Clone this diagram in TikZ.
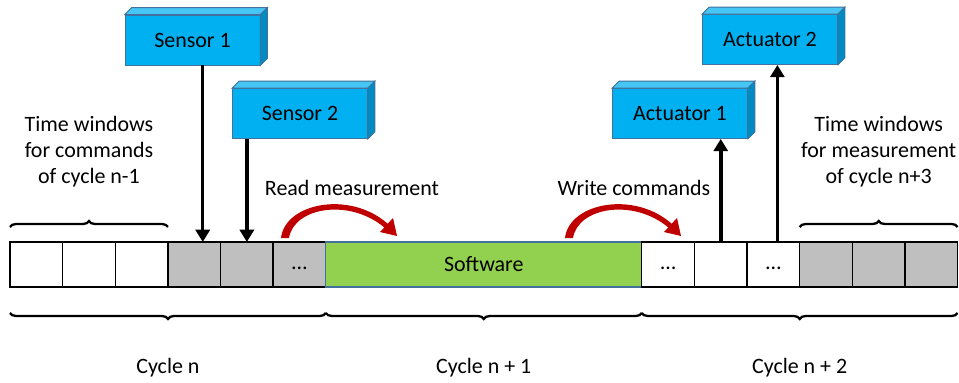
\documentclass[tikz,border=0pt]{standalone}
\usepackage{fontspec}
\setmainfont{Carlito}
\usetikzlibrary{positioning,arrows.meta,decorations.pathreplacing}

\definecolor{devfront}{HTML}{00B0F0}
\definecolor{devtop}{HTML}{45C6F4}
\definecolor{devside}{HTML}{008CC2}
\definecolor{devline}{HTML}{41719C}
\definecolor{slotgray}{HTML}{BFBFBF}
\definecolor{swgreen}{HTML}{92D050}
\definecolor{arcred}{HTML}{C00000}

% top and right faces of a device box
\newcommand{\devdepth}[1]{%
  \filldraw[devtop, draw=devline, line width=0.5pt] (#1.north west) -- ++(0.14cm,0.14cm)
      -- ([shift={(0.14cm,0.14cm)}]#1.north east) -- (#1.north east) -- cycle;
  \filldraw[devside, draw=devline, line width=0.5pt] (#1.north east) -- ++(0.14cm,0.14cm)
      -- ([shift={(0.14cm,0.14cm)}]#1.south east) -- (#1.south east) -- cycle;
}

% curved red arrow, shifted along x (pixels)
\newcommand{\redarc}[1]{%
  \begin{scope}[shift={(#1,0)}]
    \fill[arcred] (281,238) .. controls (285,203) and (350,190) .. (388,224)
        -- (385,228) .. controls (350,198) and (294,207) .. (289,238) -- cycle;
    \fill[arcred] (397,236) -- (393,218) -- (380,232) -- cycle;
  \end{scope}}

\begin{document}
\begin{tikzpicture}[x=0.02cm, y=-0.02cm, >=Stealth,
    every node/.style={font=\fontsize{12.5}{14.8}\selectfont},
    slot/.style={draw, line width=0.8pt, minimum width=1.053cm, minimum height=0.9cm,
                 inner sep=0pt, outer sep=0pt, fill=white},
    slotfull/.style={slot, fill=slotgray},
    swbox/.style={draw=devline, line width=0.6pt, fill=swgreen, minimum width=6.32cm,
                  minimum height=0.9cm, inner sep=0pt, outer sep=0pt},
    dev/.style={draw=devline, line width=0.5pt, fill=devfront, minimum width=2.7cm,
                minimum height=1cm, inner sep=0pt},
    sig/.style={-{Triangle[width=8pt,length=7pt]}, line width=2pt},
    brc/.style={decorate, decoration={brace, amplitude=0.12cm}, line width=1.3pt}]
    \useasboundingbox (0,0) rectangle (959,382);

    % Time slots
    \node[slot, anchor=north west] (c1) at (10,242) {};
    \node[slot, right=0pt of c1] (c2) {};
    \node[slot, right=0pt of c2] (c3) {};
    \node[slotfull, right=0pt of c3] (c4) {};
    \node[slotfull, right=0pt of c4] (c5) {};
    \node[slotfull, right=0pt of c5] (c6) {\strut\dots};
    \node[swbox, right=0pt of c6] (sw) {Software};
    \node[slot, right=0pt of sw] (c7) {\strut\dots};
    \node[slot, right=0pt of c7] (c8) {};
    \node[slot, right=0pt of c8] (c9) {\strut\dots};
    \node[slotfull, right=0pt of c9] (c10) {};
    \node[slotfull, right=0pt of c10] (c11) {};
    \node[slotfull, right=0pt of c11] (c12) {};

    % Sensors and actuators
    \node[dev] (sensor1) at (192.5,40) {Sensor 1};
    \node[dev] (sensor2) at (300,113.5) {Sensor 2};
    \node[dev] (act1) at (680,113.5) {Actuator 1};
    \node[dev] (act2) at (770,39.5) {Actuator 2};
    \devdepth{sensor1}
    \devdepth{sensor2}
    \devdepth{act1}
    \devdepth{act2}

    % Signals
    \coordinate (s1in) at ([xshift=0.17cm]c4.north);
    \coordinate (a2out) at ([xshift=0.08cm]c9.north);
    \draw[sig] (s1in |- sensor1.south) -- (s1in);
    \draw[sig] (c5.north |- sensor2.south) -- (c5.north);
    \draw[sig] (c8.north) -- (c8.north |- act1.south);
    \draw[sig] (a2out) -- (a2out |- act2.south);

    % Read / write
    \node (readlbl) at (352,188) {Read measurement};
    \node (writelbl) at (634,188) {Write commands};
    \redarc{0}
    \redarc{284}

    % Upper braces
    \draw[brc, decoration={raise=0.3cm}] (c1.north west) -- (c3.north east)
        node[midway, yshift=1.8cm, align=center] (winleft) {Time windows\\for commands\\of cycle n-1};
    \draw[brc, decoration={raise=0.3cm}] (c10.north west) -- (c12.north east)
        node[midway, yshift=1.8cm, align=center] (winright) {Time windows\\for measurement\\of cycle n+3};

    % Cycles
    \draw[brc, decoration={mirror, raise=0.52cm}] (c1.south west) -- (c6.south east)
        node[midway, yshift=-1.62cm] (cyc0) {Cycle n};
    \draw[brc, decoration={mirror, raise=0.52cm}] (sw.south west) -- (sw.south east)
        node[midway, yshift=-1.62cm] (cyc1) {Cycle n + 1};
    \draw[brc, decoration={mirror, raise=0.52cm}] (c7.south west) -- (c12.south east)
        node[midway, yshift=-1.62cm] (cyc2) {Cycle n + 2};
\end{tikzpicture}
\end{document}
